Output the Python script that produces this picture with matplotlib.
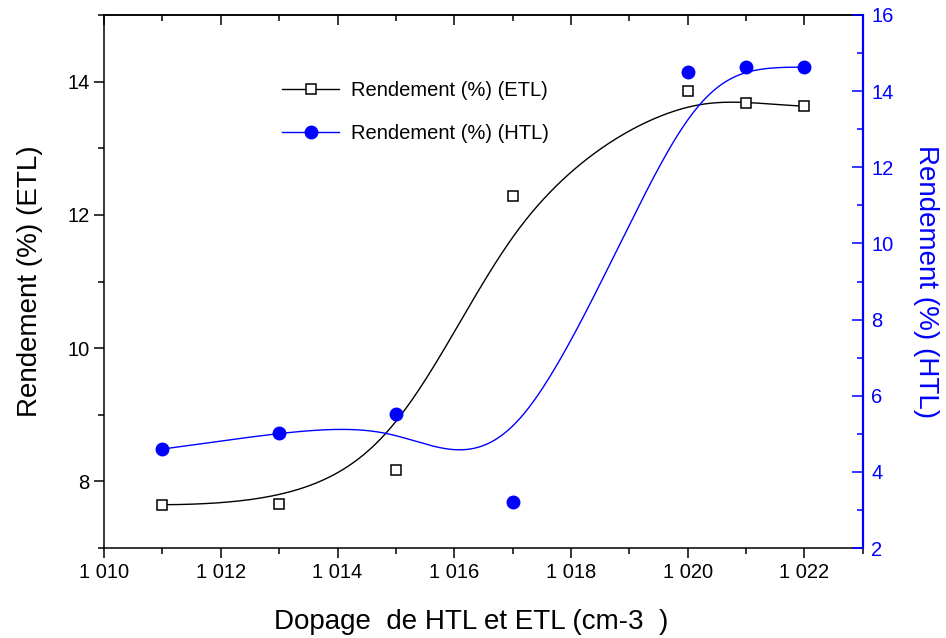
import numpy as np
import matplotlib.pyplot as plt
from matplotlib.lines import Line2D
from matplotlib.ticker import MultipleLocator, FuncFormatter

plt.rcParams['font.family'] = ['Liberation Sans', 'DejaVu Sans']

# dopage and rendement values
dopage = [1011, 1013, 1015, 1017, 1020, 1021, 1022]
rend_etl = [7.65, 7.66, 8.17, 12.28, 13.86, 13.68, 13.63]
rend_htl = [4.60, 5.02, 5.52, 3.21, 14.50, 14.63, 14.63]


def bspline(px, py, k=3, n=400):
    # clamped cubic B-spline using the points as control points
    px = np.asarray(px, float)
    py = np.asarray(py, float)
    m = len(px)
    t = np.concatenate([np.zeros(k), np.arange(m - k + 1), np.full(k, m - k)]).astype(float)
    u = np.linspace(0, m - k, n)
    N = np.zeros((n, len(t) - 1))
    for j in range(len(t) - 1):
        N[:, j] = (t[j] <= u) & (u < t[j + 1])
    N[u >= t[-1], m - 1] = 1.0
    for d in range(1, k + 1):
        Nn = np.zeros((n, len(t) - 1 - d))
        for j in range(len(t) - 1 - d):
            a = 0.0
            b = 0.0
            if t[j + d] > t[j]:
                a = (u - t[j]) / (t[j + d] - t[j]) * N[:, j]
            if t[j + d + 1] > t[j + 1]:
                b = (t[j + d + 1] - u) / (t[j + d + 1] - t[j + 1]) * N[:, j + 1]
            Nn[:, j] = a + b
        N = Nn
    return N @ px, N @ py


fig = plt.figure(figsize=(9.46, 6.38), dpi=100)
ax = fig.add_axes([0.110, 0.141, 0.802, 0.8355])
ax2 = ax.twinx()

bx, by = bspline(dopage, rend_etl)
hx, hy = bspline(dopage, rend_htl)

ax.plot(bx, by, color='black', lw=1)
ax.plot(dopage, rend_etl, 's', mfc='white', mec='black', ms=7, mew=1.1)
ax2.plot(hx, hy, color='blue', lw=1)
ax2.plot(dopage, rend_htl, 'o', color='blue', ms=9)

ax.set_xlim(1010, 1023)
ax.set_ylim(7, 15)
ax2.set_ylim(2, 16)

ax.xaxis.set_major_locator(MultipleLocator(2))
ax.xaxis.set_minor_locator(MultipleLocator(1))
ax.xaxis.set_major_formatter(FuncFormatter(lambda v, p: f"{int(v):,}".replace(",", " ")))
ax.yaxis.set_major_locator(MultipleLocator(2))
ax.yaxis.set_minor_locator(MultipleLocator(1))
ax2.yaxis.set_major_locator(MultipleLocator(2))
ax2.yaxis.set_minor_locator(MultipleLocator(1))

ax.tick_params(which='major', direction='out', length=7, width=1.1, labelsize=14.5)
ax.tick_params(which='minor', direction='out', length=4, width=1.1)
ax2.tick_params(axis='y', which='major', direction='in', length=8, width=1.1,
                colors='blue', labelsize=14.5, pad=6)
ax2.tick_params(axis='y', which='minor', direction='in', length=4, width=1.1, colors='blue')

top = ax.secondary_xaxis('top')
top.xaxis.set_major_locator(MultipleLocator(2))
top.xaxis.set_minor_locator(MultipleLocator(1))
top.tick_params(which='major', direction='in', length=7, width=1.1, labeltop=False)
top.tick_params(which='minor', direction='in', length=4, width=1.1)
top.spines['top'].set_linewidth(1.1)

for s in ['left', 'bottom', 'top']:
    ax.spines[s].set_linewidth(1.1)
ax.spines['right'].set_visible(False)
for s in ['left', 'bottom', 'top']:
    ax2.spines[s].set_visible(False)
ax2.spines['right'].set_color('blue')
ax2.spines['right'].set_linewidth(1.6)

ax.set_xlabel('Dopage  de HTL et ETL (cm-3  )', fontsize=20, va='center')
ax.xaxis.set_label_coords(0.4835, -0.138)
ax.set_ylabel('Rendement (%) (ETL)', fontsize=20, va='center', ha='center')
ax.yaxis.set_label_coords(-0.0975, 0.5)
ax2.set_ylabel('Rendement (%) (HTL)', fontsize=20, color='blue', rotation=-90,
               va='center', ha='center')
ax2.yaxis.set_label_coords(1.083, 0.5)

handles = [
    Line2D([], [], color='black', lw=1, marker='s', mfc='white', mec='black', ms=7, mew=1.1),
    Line2D([], [], color='blue', lw=1, marker='o', ms=9),
]
ax2.legend(handles, ['Rendement (%) (ETL)', 'Rendement (%) (HTL)'],
           loc='upper left', bbox_to_anchor=(0.235, 0.876), frameon=False,
           fontsize=14.5, handlelength=2.8, handletextpad=0.6, labelspacing=1.2,
           borderpad=0, borderaxespad=0)

fig.savefig('out.png', dpi=100)
